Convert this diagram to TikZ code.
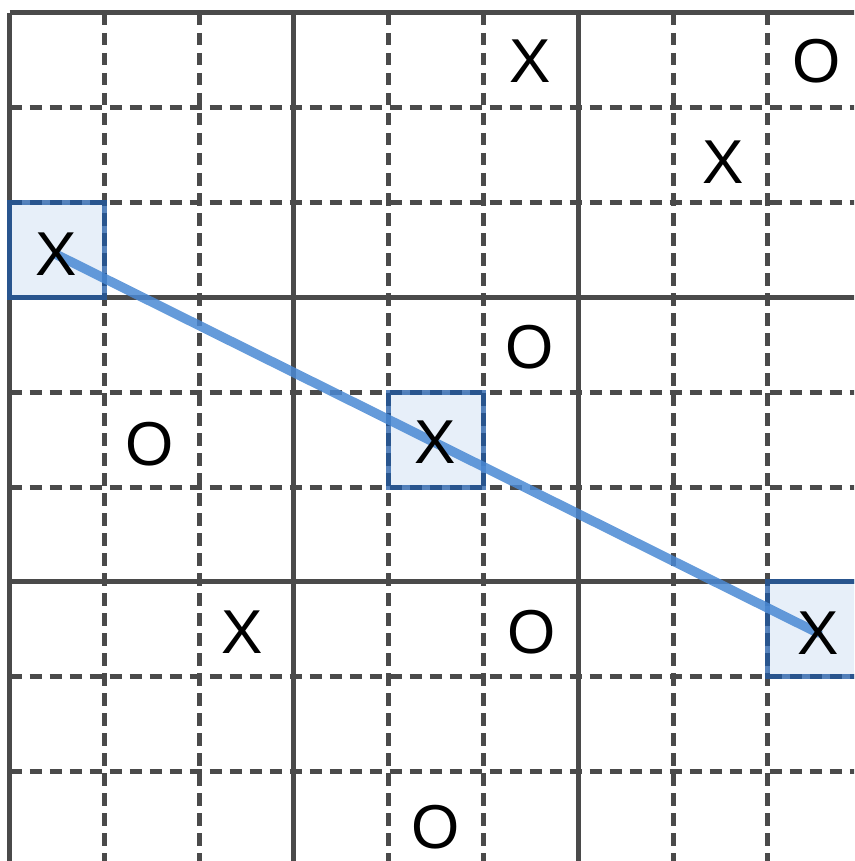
\documentclass[tikz,border=0pt]{standalone}
\usepackage{fontspec}
\setmainfont{Liberation Sans}
\usetikzlibrary{backgrounds}
\begin{document}
\begin{tikzpicture}[x=1pt,y=-1pt,
  gridthick/.style={draw=gridgray,line width=5pt},
  griddash/.style={draw=gridgray,line width=5pt,dash pattern=on 12.5pt off 7.5pt},
  hlfill/.style={fill=hlblue},
  hlborder/.style={draw=borderblue,line width=5pt,draw opacity=0.75},
  winline/.style={draw=lineblue,line width=9.5pt,line cap=round,draw opacity=0.85},
  glyph/.style={font=\fontsize{62}{62}\selectfont,inner sep=0pt,text=black}]
\definecolor{gridgray}{HTML}{4A4A4A}
\definecolor{hlblue}{HTML}{E7EFF9}
\definecolor{borderblue}{HTML}{1F5AA6}
\definecolor{lineblue}{HTML}{4A89D4}
\useasboundingbox (0,0) rectangle (854,861);
\def\cs{94.8}
\def\ox{9.5}
\def\oy{13}
% marks
\node[glyph] (m05) at (530.5,61.3) {X};
\node[glyph] (m08) at (816.5,60.8) {O};
\node[glyph] (m17) at (723.3,161.7) {X};
\node[glyph] (m20) at (56.3,254.5) {X};
\node[glyph] (m35) at (530,347.5) {O};
\node[glyph] (m41) at (150,444.2) {O};
\node[glyph] (m44) at (435,442.5) {X};
\node[glyph] (m62) at (242,631.7) {X};
\node[glyph] (m65) at (531.7,631.7) {O};
\node[glyph] (m68) at (818,633) {X};
\node[glyph] (m84) at (435.5,827.5) {O};
\begin{pgfonlayer}{background}
\clip (0,0) rectangle (854,861);
% highlight fills
\foreach \r/\c in {2/0,4/4,6/8}{
  \fill[hlfill] ({\ox+\c*\cs},{\oy+\r*\cs}) rectangle ++(\cs,\cs);
}
% dashed grid lines
\foreach \i in {1,2,4,5,7,8,10}{
  \draw[griddash] ({\ox+\i*\cs},\oy) -- ({\ox+\i*\cs},900);
  \draw[griddash] (\ox,{\oy+\i*\cs}) -- (900,{\oy+\i*\cs});
}
% thick grid lines
\foreach \i in {0,3,6,9}{
  \draw[gridthick] ({\ox+\i*\cs},\oy) -- ({\ox+\i*\cs},900);
  \draw[gridthick] (\ox,{\oy+\i*\cs}) -- (900,{\oy+\i*\cs});
}
% highlight borders
\foreach \r/\c in {2/0,4/4,6/8}{
  \draw[hlborder] ({\ox+\c*\cs},{\oy+\r*\cs}) rectangle ++(\cs,\cs);
}
% winning line
\draw[winline] (m20.center) -- (m68.center);
\end{pgfonlayer}
\end{tikzpicture}
\end{document}
